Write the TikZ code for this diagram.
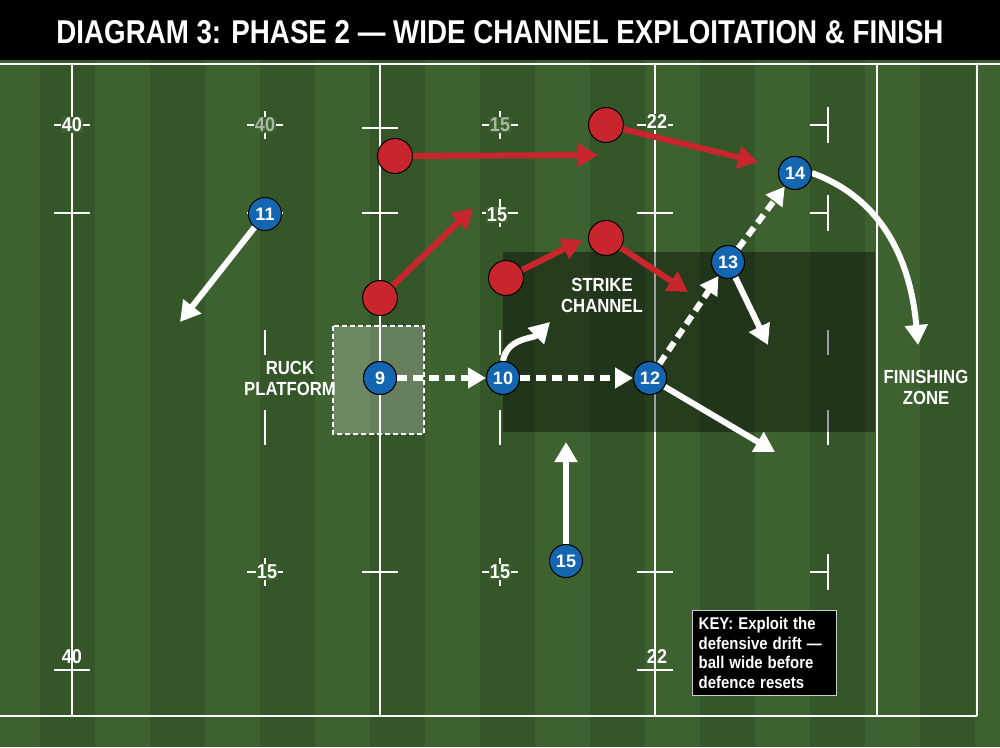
\documentclass[tikz,border=0pt]{standalone}
\usepackage{fontspec}
\setmainfont{Liberation Sans}
\usetikzlibrary{arrows.meta,calc}
\definecolor{turf}{HTML}{3D6230}
\definecolor{turfdark}{HTML}{345629}
\definecolor{redteam}{HTML}{C8262C}
\definecolor{blueteam}{HTML}{1466B0}
\tikzstyle{line}=[white, line width=2.4pt]
\tikzstyle{yard}=[fill=turf, text=white, inner sep=1pt, font=\fontsize{20}{20}\selectfont\bfseries, xscale=0.9, transform shape]
\tikzstyle{faded}=[text=white!55!turf]
\tikzstyle{blue}=[circle, draw=black, line width=1pt, fill=blueteam, minimum size=33pt, inner sep=0pt, text=white, font=\fontsize{18}{18}\selectfont\bfseries]
\tikzstyle{red}=[circle, draw=black, line width=1pt, fill=redteam, minimum size=35pt, inner sep=0pt]
\tikzstyle{run}=[white, line width=6pt, -{Triangle[length=20pt,width=22pt]}]
\tikzstyle{pass}=[white, line width=6pt, dash pattern=on 10pt off 6pt, -{Triangle[length=18pt,width=20pt]}]
\tikzstyle{def}=[redteam, line width=6pt, -{Triangle[length=20pt,width=22pt]}]
\tikzstyle{lbl}=[white, font=\fontsize{19}{21}\selectfont\bfseries, align=center, xscale=0.88, transform shape]
\newcommand{\hashmark}[2]{
	\draw[line] ($#1+(-18,0)$) -- ($#1+(18,0)$);
	\draw[line] ($#1+(0,-#2)$) -- ($#1+(0,#2)$);
}
\begin{document}
\begin{tikzpicture}[x=1pt,y=-1pt]
	\useasboundingbox (0,0) rectangle (1000,747);
	\fill[turf] (0,0) rectangle (1000,747);
	\foreach \s in {0,2,...,18}
		\fill[turfdark] ({\s*55+40},60) rectangle ({\s*55+95},747);
	\fill[black] (0,0) rectangle (1000,60);
	\node[white, font=\fontsize{33}{33}\selectfont\bfseries, xscale=0.84, transform shape] (title) at (500,32) {DIAGRAM 3: PHASE 2 --- WIDE CHANNEL EXPLOITATION \& FINISH};
	% pitch lines
	\draw[line] (0,64) -- (1000,64);
	\draw[line] (0,716) -- (977,716);
	\foreach \x in {72,380,655,877,977}
		\draw[line] (\x,64) -- (\x,716);
	\hashmark{(72,125)}{0}
	\hashmark{(265,125)}{14}
	\hashmark{(380,128)}{0}
	\hashmark{(500,125)}{14}
	\hashmark{(655,125)}{0}
	\hashmark{(72,213)}{0}
	\hashmark{(265,213)}{14}
	\hashmark{(380,213)}{0}
	\hashmark{(500,213)}{14}
	\hashmark{(655,213)}{0}
	\hashmark{(265,572)}{14}
	\hashmark{(380,572)}{0}
	\hashmark{(500,572)}{14}
	\hashmark{(655,572)}{0}
	\hashmark{(72,670)}{0}
	\hashmark{(655,670)}{0}
	\foreach \y in {125,213,572}{
		\draw[line] (810,\y) -- (828,\y);
		\draw[line] (828,{\y-18}) -- (828,{\y+18});
	}
	\foreach \x in {265,500,828}
		\draw[line] (\x,410) -- (\x,445);
	\foreach \x in {265,500,828}
		\draw[line] (\x,330) -- (\x,355);
	% yard numbers
	\node[yard] (n40a) at (72,125) {40};
	\node[yard, faded] (n40b) at (265,125) {40};
	\node[yard, faded] (n15a) at (500,125) {15};
	\node[yard] (n22a) at (657,122) {22};
	\node[yard] (n15b) at (497,215) {15};
	\node[yard] (n15c) at (267,572) {15};
	\node[yard] (n15d) at (500,572) {15};
	\node[yard, fill=none] (n40c) at (72,657) {40};
	\node[yard, fill=none] (n22b) at (657,657) {22};
	% zones
	\fill[black, opacity=0.38] (503,252) rectangle (875,432);
	\draw[white, line width=1.2pt, dash pattern=on 5pt off 3pt, fill=white, fill opacity=0.25] (333,326) rectangle (424,434);
	\node[lbl] (ruck) at (290,378) {RUCK\\PLATFORM};
	\node[lbl] (strike) at (602,295) {STRIKE\\CHANNEL};
	\node[lbl] (finish) at (926,387) {FINISHING\\ZONE};
	% defence
	\node[red] (r1) at (395,156) {};
	\node[red] (r2) at (606,125) {};
	\node[red] (r3) at (380,298) {};
	\node[red] (r4) at (506,278) {};
	\node[red] (r5) at (606,238) {};
	\coordinate (d1) at (598,155);
	\coordinate (d2) at (758,162);
	\coordinate (d3) at (473,208);
	\coordinate (d4) at (582,240);
	\coordinate (d5) at (688,292);
	\draw[def] (r1) -- (d1);
	\draw[def] (r2) -- (d2);
	\draw[def] (r3) -- (d3);
	\draw[def] (r4) -- (d4);
	\draw[def] (r5) -- (d5);
	% attack
	\node[blue] (p11) at (265,214) {11};
	\node[blue] (p9) at (380,378) {9};
	\node[blue] (p10) at (503,378) {10};
	\node[blue] (p12) at (650,378) {12};
	\node[blue] (p13) at (728,262) {13};
	\node[blue] (p14) at (795,173) {14};
	\node[blue] (p15) at (566,561) {15};
	\coordinate (m11) at (180,322);
	\coordinate (m10) at (550,322);
	\coordinate (m12) at (775,452);
	\coordinate (m13) at (768,345);
	\coordinate (m15) at (566,442);
	\coordinate (m14) at (918,345);
	\draw[run] (p11) -- (m11);
	\draw[run] (p10.north) to[out=80,in=225] (m10);
	\draw[run] (p12) -- (m12);
	\draw[run] (p13) -- (m13);
	\draw[run] (p15) -- (m15);
	\draw[run] (p14.east) to[out=-20,in=95] (m14);
	\draw[pass] (p9) -- (p10);
	\draw[pass] (p10) -- (p12);
	\draw[pass] (p12) -- (p13);
	\draw[pass] (p13) -- (p14);
	\node[blue] at (p9) {9};
	\node[blue] at (p10) {10};
	\node[blue] at (p12) {12};
	\node[blue] at (p13) {13};
	\node[blue] at (p14) {14};
	% key
	\node[draw=white!80!black, line width=1.2pt, fill=black, text=white, anchor=north west, align=left, inner sep=7pt, text width=150pt, font=\fontsize{17}{19.5}\selectfont\bfseries, xscale=0.88, transform shape] (key) at (692,610) {KEY: Exploit the defensive drift --- ball wide before defence resets};
\end{tikzpicture}
\end{document}
